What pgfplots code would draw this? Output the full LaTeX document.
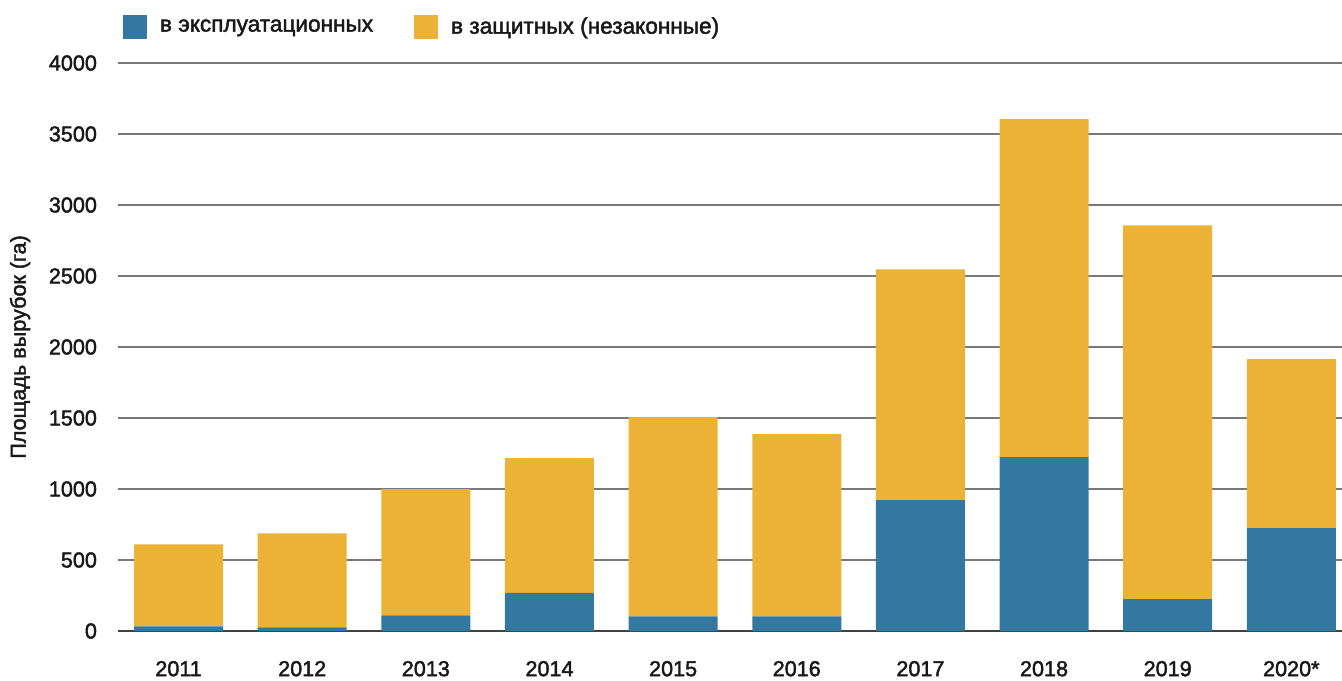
\documentclass[border=0pt]{standalone}
\usepackage{pgfplots}
\pgfplotsset{compat=1.18}
\usepackage{fontspec}
\setmainfont{Liberation Sans}
\newfontfamily\medfont{Liberation Sans}[UprightFeatures={FakeBold=2}]
\definecolor{cblue}{RGB}{51,120,160}
\definecolor{cyel}{RGB}{236,178,54}
\definecolor{cgrid}{RGB}{120,120,120}
\begin{document}
\begin{tikzpicture}
\path[use as bounding box] (0,0) rectangle (671pt,340pt);
\begin{axis}[
  at={(59pt,24.5pt)}, anchor=south west,
  scale only axis, width=612pt, height=284pt,
  ybar stacked, bar width=44.5pt,
  xmin=-0.49, xmax=9.41, ymin=0, ymax=4000,
  xtick={0,...,9},
  xticklabels={2011,2012,2013,2014,2015,2016,2017,2018,2019,2020*},
  ytick={0,500,...,4000},
  major tick length=0pt,
  axis line style={draw=none},
  ymajorgrids, grid style={cgrid, line width=0.6pt},
  extra y ticks={0}, extra y tick labels={},
  extra y tick style={grid style={black!75, line width=0.7pt}},
  /pgf/number format/assume math mode=true,
  /pgf/number format/1000 sep={},
  ticklabel style={font=\medfont\fontsize{10.8}{12}\selectfont, text=black!90},
  yticklabel style={xshift=-7pt},
  xticklabel style={yshift=-11.5pt},
  ylabel={Площадь вырубок (га)},
  ylabel style={font=\medfont\fontsize{10.8}{12}\selectfont, text=black!90, at={(axis description cs:0,0.5)}, anchor=center, yshift=49pt},
  legend columns=2,
  legend style={draw=none, inner sep=0pt, outer sep=0pt, at={(axis description cs:0,1)}, anchor=west, yshift=18pt, xshift=2.5pt,
    font=\medfont\fontsize{11.3}{12}\selectfont, text=black!90,
    nodes={inner sep=0pt},
    /tikz/every odd column/.append style={column sep=6.5pt},
    /tikz/every even column/.append style={column sep=20.5pt}},
  legend image code/.code={\fill[#1] (0pt,-6pt) rectangle (12pt,6pt);},
]
\addplot+[fill=cblue, draw=none] coordinates {(0,33) (1,26) (2,110) (3,268) (4,103) (5,103) (6,922) (7,1224) (8,224) (9,724)};
\addplot+[fill=cyel, draw=none] coordinates {(0,577) (1,662) (2,890) (3,950) (4,1404) (5,1284) (6,1625) (7,2380) (8,2633) (9,1190)};
\legend{в эксплуатационных, в защитных (незаконные)}
\end{axis}
\end{tikzpicture}
\end{document}
